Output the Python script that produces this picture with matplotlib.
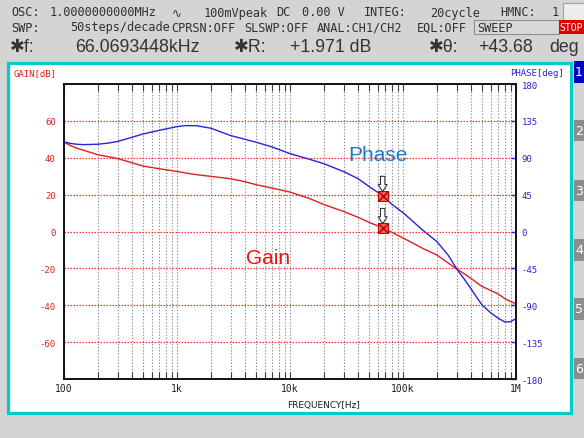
import matplotlib
matplotlib.use('Agg')
import matplotlib.pyplot as plt
from matplotlib.patches import Rectangle
from matplotlib.ticker import FixedLocator, NullFormatter

# ---------------- data ----------------
freq_hz = [100, 113, 130, 150, 200, 250, 300, 400, 500, 700, 1000, 1200, 1500, 2000,
           2500, 3000, 4000, 5000, 7000, 10000, 15000, 20000, 30000, 40000, 50000,
           66069, 80000, 100000, 150000, 200000, 250000, 300000, 350000, 400000,
           450000, 500000, 600000, 700000, 800000, 900000, 1000000]
gain_db = [48.5, 46.7, 45.2, 44.0, 41.6, 40.5, 39.5, 37.3, 35.5, 34.0, 32.6, 31.7, 30.8, 29.9,
           29.2, 28.6, 27.0, 25.4, 23.5, 21.4, 17.8, 14.6, 10.8, 7.7, 5.0,
           1.97, -0.5, -3.5, -9.2, -12.8, -17.0, -20.4, -23.0, -25.5,
           -27.8, -29.8, -32.0, -34.0, -36.5, -38.0, -39.2]
phase_deg = [109.5, 107.5, 106.5, 106.0, 106.5, 108.0, 110.0, 115.0, 119.0, 123.5, 128.0, 129.3, 129.0, 126.0,
             121.0, 117.0, 112.5, 109.0, 103.0, 95.0, 88.0, 82.7, 73.0, 64.5, 55.0,
             43.68, 33.0, 23.0, 1.5, -12.5, -28.5, -46.0, -58.5, -70.0,
             -80.5, -89.5, -99.5, -106.0, -110.5, -110.0, -106.0]
marker_freq = 66069.3448
marker_gain = 1.971
marker_phase = 43.68
x_tick_vals = [100, 1e3, 1e4, 1e5, 1e6]
x_tick_labels = ['100', '1k', '10k', '100k', '1M']
gain_ticks = [60, 40, 20, 0, -20, -40, -60]
phase_ticks = [180, 135, 90, 45, 0, -45, -90, -135, -180]

# ---------------- figure ----------------
W, H = 584, 439
fig = plt.figure(figsize=(W / 100, H / 100), dpi=100)
fig.patch.set_facecolor('#d4d4d4')


def fx(x):
    return x / W


def fy(y):
    return 1 - y / H


def frect(x0, y0, x1, y1, z=-5, **kw):
    r = Rectangle((fx(x0), fy(y1)), fx(x1) - fx(x0), fy(y0) - fy(y1),
                  transform=fig.transFigure, zorder=z, **kw)
    fig.patches.append(r)
    return r


# white panel with cyan frame
frect(8, 64, 571, 414, z=-10, facecolor='white', edgecolor='#00cccc', lw=2.3)

# right-side tabs
tabs = [(62, 84, '1'), (121, 142, '2'), (181, 202, '3'), (240, 262, '4'),
        (299, 321, '5'), (359, 380, '6')]
for i, (y0, y1, s) in enumerate(tabs):
    col = '#0000c0' if i == 0 else '#8c8c8c'
    frect(574, y0, 584, y1, facecolor=col, edgecolor='none')
    fig.text(fx(579), fy((y0 + y1) / 2), s, color='white', fontsize=9,
             ha='center', va='center', family='DejaVu Sans')

# header rows
MONO = ['DejaVu Sans Mono', 'DejaVu Sans', 'Noto Sans']
mono = dict(family=MONO, fontsize=8.6, color='#303030', va='center')
row1 = [(11, 'OSC:'), (50, '1.0000000000MHz'), (172, '\u223F'), (204, '100mVpeak'),
        (276, 'DC'), (302, '0.00 V'), (364, 'INTEG:'), (430, '20cycle'),
        (500, 'HMNC:'), (552, '1')]
for x, s in row1:
    fig.text(fx(x), fy(13), s, **mono)
frect(563, 4, 586, 21, facecolor='#ececec', edgecolor='#a0a0a0', lw=0.8)

row2 = [(11, 'SWP:'), (70, '50steps/decade'), (171, 'CPRSN:OFF'), (244, 'SLSWP:OFF'),
        (317, 'ANAL:CH1/CH2'), (417, 'EQL:OFF')]
for x, s in row2:
    fig.text(fx(x), fy(28), s, **mono)
frect(474, 21, 559, 35, facecolor='#d8d8d8', edgecolor='#909090', lw=0.8)
fig.text(fx(477), fy(28), 'SWEEP', **mono)
frect(559, 21, 586, 35, facecolor='#e00000', edgecolor='none')
fig.text(fx(559.5), fy(28), 'STOP', family=MONO, fontsize=7.0,
         color='white', va='center')

BIG = ['Liberation Sans', 'DejaVu Sans', 'Noto Sans CJK SC']
big = dict(family=BIG, fontsize=12.8, color='#333333', va='center')
row3 = [(10, '\u2731f:'), (75, '66.0693448kHz'), (234, '\u2731R:'), (290, '+1.971 dB'),
        (429, '\u2731\u03b8:'), (478, '+43.68'), (549, 'deg')]
for x, s in row3:
    fig.text(fx(x), fy(48), s, **big)

# ---------------- axes ----------------
ax = fig.add_axes([fx(64), fy(380), fx(516) - fx(64), fy(85) - fy(380)])
ax.set_zorder(1)
ax.set_facecolor('white')
ax.set_xscale('log')
ax.set_xlim(100, 1e6)
ax.set_ylim(-80, 80)
ax2 = ax.twinx()
ax2.set_zorder(2)
ax2.set_ylim(-180, 180)

ax.plot(freq_hz, gain_db, color='#dd2020', lw=1.0, zorder=3)
ax2.plot(freq_hz, phase_deg, color='#2525d5', lw=1.0, zorder=3)

# grid
ax.xaxis.set_major_locator(FixedLocator(x_tick_vals))
ax.xaxis.set_minor_locator(FixedLocator(
    [m * d for d in [100, 1e3, 1e4, 1e5] for m in range(2, 10)]))
ax.xaxis.set_minor_formatter(NullFormatter())
ax.set_xticklabels(x_tick_labels)
ax.grid(which='both', axis='x', color='#909090', linestyle=(0, (1.2, 1.6)), lw=0.8)
ax.set_yticks(gain_ticks)
ax.set_yticklabels([str(v) for v in gain_ticks])
ax.grid(which='major', axis='y', color='#ff3030', linestyle=(0, (1.2, 1.2)), lw=0.9)
ax.set_axisbelow(True)

ax.tick_params(axis='x', which='both', direction='in', top=True, bottom=True,
               length=5, width=0.8, color='#404040', pad=3,
               labelsize=7, labelcolor='#202020')
for lab in ax.get_xticklabels():
    lab.set_family('DejaVu Sans Mono')
ax.tick_params(axis='y', which='both', length=0, pad=6, labelsize=6.5,
               labelcolor='#dd2020')
for lab in ax.get_yticklabels():
    lab.set_family('DejaVu Sans Mono')

ax2.set_yticks(phase_ticks)
ax2.set_yticklabels([str(v) for v in phase_ticks])
ax2.tick_params(axis='y', direction='in', length=3.5, width=1.0, color='#2525d5',
                pad=4, labelsize=6.5, labelcolor='#2525d5')
for lab in ax2.get_yticklabels():
    lab.set_family('DejaVu Sans Mono')

for a in (ax, ax2):
    for sp in a.spines.values():
        sp.set_color('#101010')
        sp.set_linewidth(1.2)

# axis titles
fig.text(fx(13), fy(74), 'GAIN[dB]', family='DejaVu Sans Mono', fontsize=6.5,
         color='#dd2020', va='center', ha='left')
fig.text(fx(564), fy(74), 'PHASE[deg]', family='DejaVu Sans Mono', fontsize=6.5,
         color='#2525d5', va='center', ha='right')
fig.text(fx(324), fy(406), 'FREQUENCY[Hz]', family='DejaVu Sans', fontsize=6.5,
         color='#202020', va='center', ha='center')

# curve labels
ax2.text(6.4e3, -14 * 180 / 80, 'Gain', color='#f01010', fontsize=15,
         family='Liberation Sans', ha='center', va='center', zorder=8)
ax2.text(6.0e4, 94, 'Phase', color='#1e78c8', fontsize=15, family='Liberation Sans',
         ha='center', va='center', zorder=8)

# markers
for a, val in ((ax, marker_gain), (ax2, marker_phase)):
    a.plot([marker_freq], [val], marker='s', ms=7, mfc='#f06060', mec='#d00000',
           mew=0.8, zorder=5)
    a.plot([marker_freq], [val], marker='x', ms=7, mec='#b00000', mew=1.0, zorder=6)
    a.annotate('', xy=(marker_freq, val), xycoords='data',
               xytext=(0, 14), textcoords='offset points',
               arrowprops=dict(arrowstyle='simple,head_width=0.65,head_length=0.5,tail_width=0.32',
                               fc='white', ec='#202020', lw=0.7, shrinkA=0, shrinkB=3),
               zorder=7)

fig.savefig('out.png', dpi=100, facecolor=fig.get_facecolor())
